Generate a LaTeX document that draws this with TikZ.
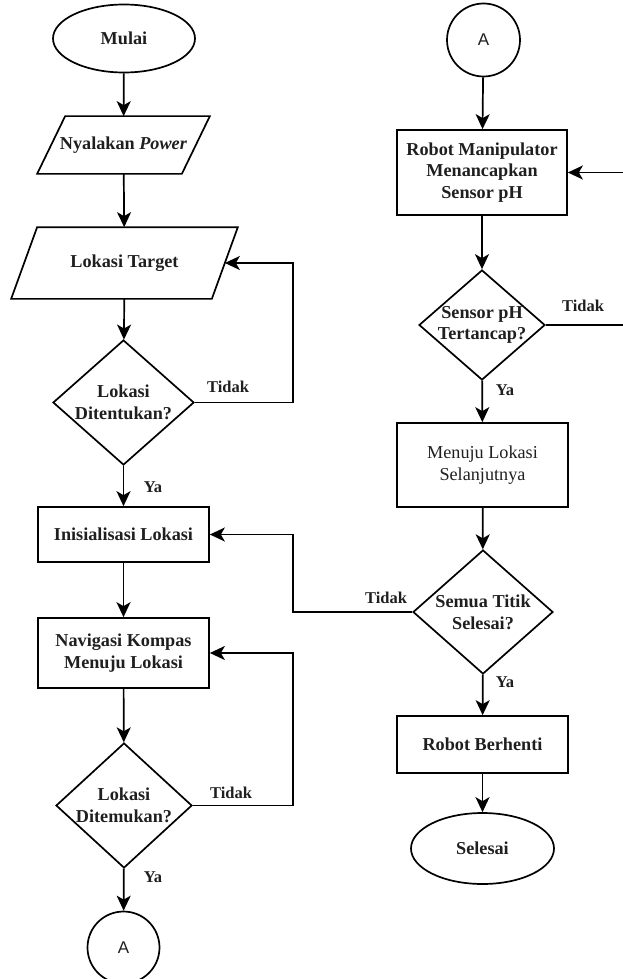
\documentclass[tikz,border=0pt]{standalone}
\usepackage{fontspec}
\setmainfont{Liberation Serif}
\newfontfamily\sansA{Liberation Sans}
\usetikzlibrary{shapes.geometric,arrows.meta}
\begin{document}
\begin{tikzpicture}[x=1pt,y=-1pt,
  line width=1.7pt,
  every node/.style={font=\fontsize{18.2}{21.7}\selectfont\bfseries, text=black!88, align=center},
  box/.style={draw, rectangle, minimum width=171pt, inner sep=0pt},
  term/.style={draw, ellipse, minimum width=142pt, minimum height=68pt, inner sep=0pt},
  conn/.style={draw, circle, minimum size=72pt, inner sep=0pt, font=\sansA\fontsize{17}{20}\selectfont},
  io/.style={rectangle, inner sep=0pt},
  dec/.style={draw, diamond, inner sep=0pt},
  arr/.style={-{Stealth[length=15pt,width=14pt,inset=4pt]}},
  lbl/.style={font=\fontsize{16.5}{20}\selectfont\bfseries}
]
\useasboundingbox (0,0) rectangle (622,979);

% left column
\node[term] (start) at (124,38.5) {Mulai};
\node[io, minimum width=143pt, minimum height=56pt] (p1) at (123.5,145) {Nyalakan \textit{Power}};
\draw ([xshift=14pt]p1.north west) -- ([xshift=14pt]p1.north east) -- ([xshift=-14pt]p1.south east) -- ([xshift=-14pt]p1.south west) -- cycle;
\node[io, minimum width=199pt, minimum height=70pt] (p2) at (124.5,263) {Lokasi Target};
\draw ([xshift=13pt]p2.north west) -- ([xshift=13pt]p2.north east) -- ([xshift=-13pt]p2.south east) -- ([xshift=-13pt]p2.south west) -- cycle;
\node[dec, minimum width=141pt, minimum height=125pt, label={center:{Lokasi\\Ditentukan?}}] (d1) at (123.5,402.5) {};
\node[box, minimum height=55pt] (init) at (123.5,534.5) {Inisialisasi Lokasi};
\node[box, minimum height=70pt] (nav) at (123.5,653) {Navigasi Kompas\\Menuju Lokasi};
\node[dec, minimum width=136pt, minimum height=125pt, label={center:{Lokasi\\Ditemukan?}}] (d2) at (124,805.5) {};
\node[conn] (a1) at (123.5,947.5) {A};

% right column
\node[conn, minimum size=73pt] (a2) at (483.5,40) {A};
\node[box, minimum width=170pt, minimum height=85pt] (rm) at (482,172.5) {Robot Manipulator\\Menancapkan\\Sensor pH};
\node[dec, minimum width=126pt, minimum height=110pt, label={center:{Sensor pH\\Tertancap?}}] (d3) at (482,325) {};
\node[box, minimum height=84pt, font=\fontsize{18.2}{21.7}\selectfont] (menuju) at (482.5,465) {Menuju Lokasi\\Selanjutnya};
\node[dec, minimum width=140pt, minimum height=124pt, label={center:{Semua Titik\\Selesai?}}] (d4) at (483,612) {};
\node[box, minimum height=57pt] (stop) at (482.5,744.5) {Robot Berhenti};
\node[term, minimum width=143pt, minimum height=71pt] (end) at (482.5,848.5) {Selesai};

% loop coordinates
\coordinate (r1) at (293,0);
\coordinate (r2) at (624,0);

% connectors left
\draw[arr] (start) -- (p1);
\draw[arr] (p1) -- (p2);
\draw[arr] (p2) -- (d1);
\draw[arr] (d1.east) -| (r1 |- p2.east) -- (p2.east);
\draw[arr] (d1) -- (init);
\draw[arr] (init) -- (nav);
\draw[arr] (nav) -- (d2);
\draw[arr] (d2.east) -| (r1 |- nav.east) -- (nav.east);
\draw[arr] (d2) -- (a1);

% connectors right
\draw[arr] (a2) -- (rm);
\draw[arr] (rm) -- (d3);
\draw[arr] (d3.east) -| (r2 |- rm.east) -- (rm.east);
\draw[arr] (d3) -- (menuju);
\draw[arr] (menuju) -- (d4);
\draw[arr] (d4.west) -| (r1 |- init.east) -- (init.east);
\draw[arr] (d4) -- (stop);
\draw[arr] (stop) -- (end);

% branch labels
\node[lbl] (t1) at (228,387) {Tidak};
\node[lbl] (y1) at (153,487) {Ya};
\node[lbl] (t2) at (231,793) {Tidak};
\node[lbl] (y2) at (153,877) {Ya};
\node[lbl] (t3) at (583,306) {Tidak};
\node[lbl] (y3) at (505,390) {Ya};
\node[lbl] (t4) at (386,598) {Tidak};
\node[lbl] (y4) at (505,682) {Ya};
\end{tikzpicture}
\end{document}
